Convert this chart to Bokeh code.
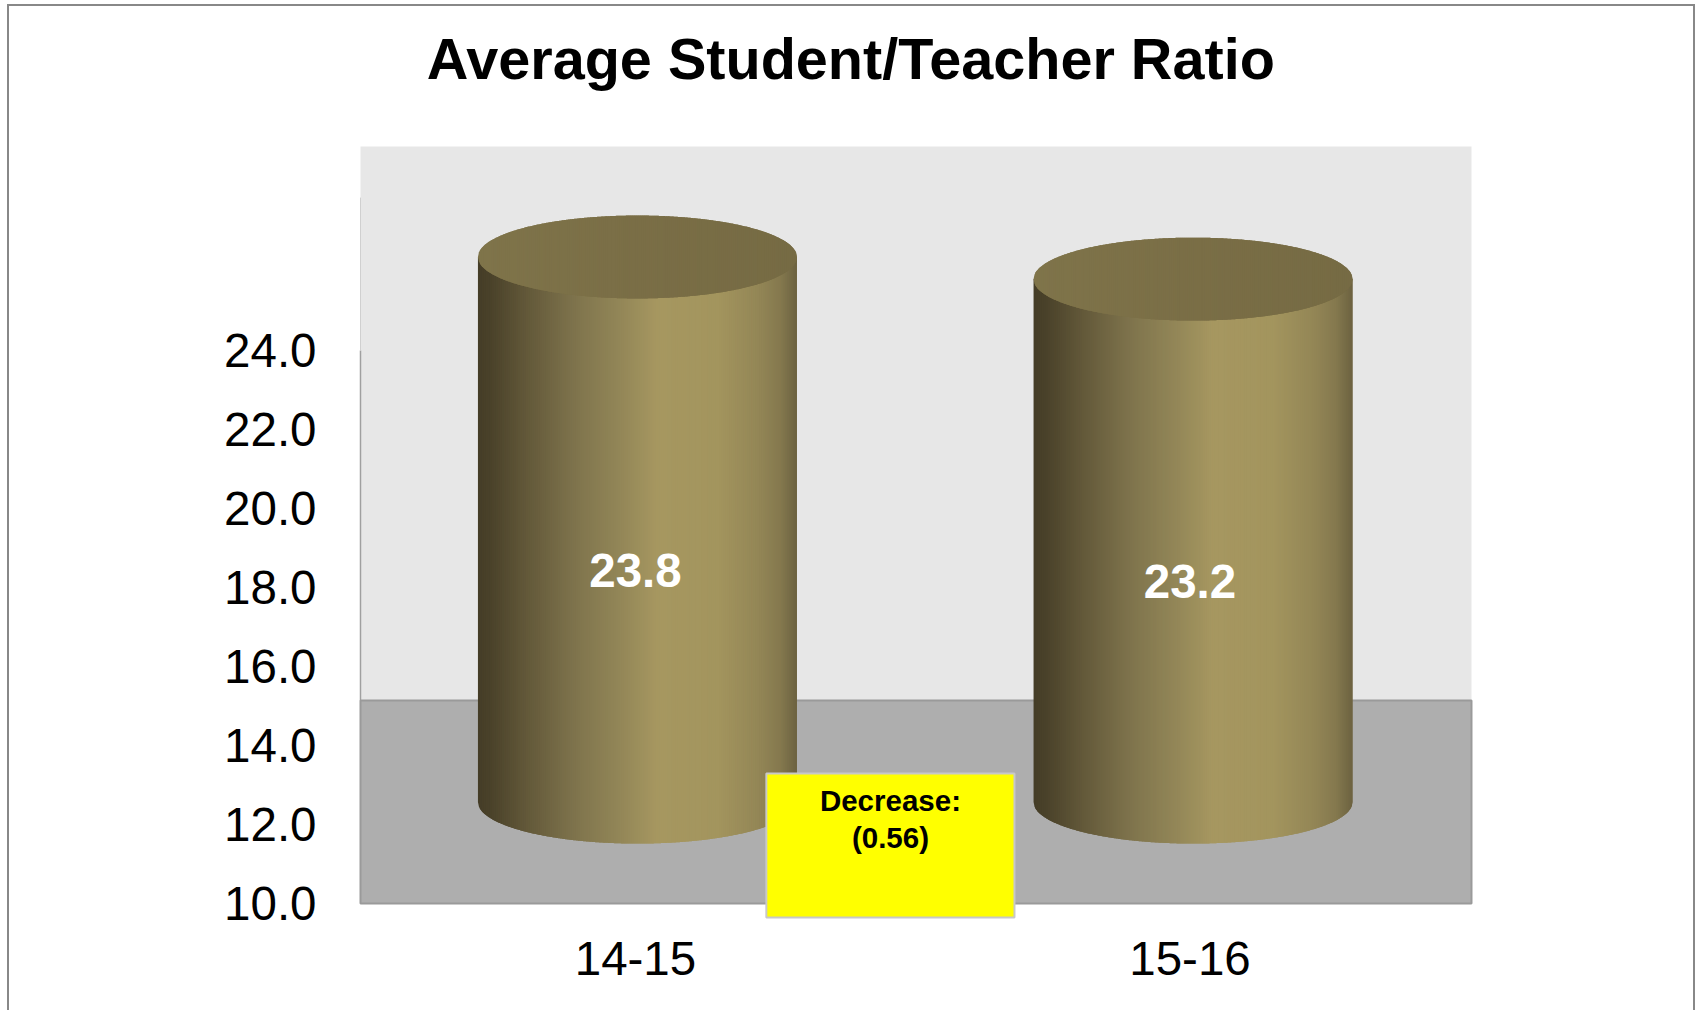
import numpy as np
from bokeh.embed import file_html
from bokeh.models import FixedTicker, InlineStyleSheet, Range1d
from bokeh.plotting import figure
from bokeh.resources import INLINE
from bokeh.core.properties import value

# ---- data ----
categories = ["14-15", "15-16"]
ratios = [23.80, 23.24]
y_ticks = [10, 12, 14, 16, 18, 20, 22, 24]
y_tick_labels = ["10.0", "12.0", "14.0", "16.0", "18.0", "20.0", "22.0", "24.0"]
title_text = "Average Student/Teacher Ratio"
callout_lines = ["Decrease:", "(0.56)"]

# ---- styling / layout ----
FONT = "Liberation Sans"
FRAME_LEFT_PX, FRAME_BOTTOM_PX = 358, 920
Y_START, Y_END = 9.57, 32.86
X_START, X_END = -0.4995, 1.5113
WALL_LEFT, WALL_RIGHT = -0.4959, 1.5077
DEPTH = 2.567            # how far the 3D floor lifts the bars above the front axis
WALL_TOP, FLOOR_TOP, FLOOR_BOTTOM = 29.165, 15.14, 10.0
TITLE_X, TITLE_Y = -0.3765, 31.37
BAR_SHIFT = [0.0035, 0.0055]
BAR_HALF_W = 0.2876
BAR_RY = 1.05
SLICES = 160
SIDE_STOPS = [0, .04, .15, .3, .45, .56, .75, .88, .95, 1]
SIDE_COLS = np.array([(0x45, 0x3D, 0x27), (0x4A, 0x42, 0x2A), (0x62, 0x58, 0x39), (0x7E, 0x73, 0x4C),
                      (0x93, 0x87, 0x58), (0xA6, 0x97, 0x60), (0xA3, 0x95, 0x5E),
                      (0x93, 0x86, 0x56), (0x84, 0x78, 0x4E), (0x6C, 0x62, 0x40)], dtype=float)
TOP_STOPS = [0, .5, 1]
TOP_COLS = np.array([(0x7F, 0x74, 0x4A), (0x7A, 0x6E, 0x46), (0x76, 0x6B, 0x44)], dtype=float)
PICTURE_FRAME_CSS = (":host::after{content:'';position:absolute;left:7px;top:4px;width:1688px;height:1006px;"
                     "box-sizing:border-box;border:2px solid #888888;border-bottom:none;pointer-events:none;}")


def hexes(stops, cols, t):
    return ["#%02x%02x%02x" % tuple(int(round(np.interp(a, stops, cols[:, k]))) for k in range(3)) for a in t]


p = figure(width=1700, height=1010, output_backend="svg", toolbar_location=None,
           x_range=Range1d(X_START, X_END), y_range=Range1d(Y_START, Y_END),
           min_border_left=FRAME_LEFT_PX, min_border_right=227, min_border_top=0,
           min_border_bottom=1010 - FRAME_BOTTOM_PX,
           background_fill_color="white", border_fill_color="white", outline_line_color=None,
           stylesheets=[InlineStyleSheet(css=PICTURE_FRAME_CSS)])
p.extra_y_ranges = {"bars": Range1d(Y_START - DEPTH, Y_END - DEPTH)}
p.grid.visible = False

# axes
ya = p.yaxis[0]
ya.ticker = FixedTicker(ticks=y_ticks)
ya.major_label_overrides = {t: s for t, s in zip(y_ticks, y_tick_labels)}
xa = p.xaxis[0]
xa.ticker = FixedTicker(ticks=list(range(len(categories))))
xa.major_label_overrides = {i: c for i, c in enumerate(categories)}
for ax, standoff in ((ya, 36), (xa, 15)):
    ax.axis_line_color = None
    ax.major_tick_line_color = None
    ax.minor_tick_line_color = None
    ax.major_label_text_font = FONT
    ax.major_label_text_font_size = "47.5px"
    ax.major_label_text_color = "black"
    ax.major_label_standoff = standoff

# title, inside the tall frame
p.text(x=[TITLE_X], y=[TITLE_Y], text=[title_text], text_font=value(FONT), text_font_size="57.6px",
       text_font_style="bold", text_color="black", text_align="left", text_baseline="middle")

# back wall and floor
p.quad(left=WALL_LEFT, right=WALL_RIGHT, bottom=FLOOR_TOP, top=WALL_TOP, fill_color="#e7e7e7", line_color=None)
p.segment(x0=[WALL_LEFT], x1=[WALL_LEFT], y0=[FLOOR_TOP], y1=[24.0], line_color="#a0a0a0", line_width=1.5)
p.segment(x0=[WALL_LEFT], x1=[WALL_LEFT], y0=[24.0], y1=[27.87], line_color="#d0d0d0", line_width=1)
p.quad(left=WALL_LEFT, right=WALL_RIGHT, bottom=FLOOR_BOTTOM, top=FLOOR_TOP, fill_color="#aeaeae",
       line_color="#9a9a9a", line_width=2)

# cylinders: narrow slices give the gradient
t = np.linspace(-1, 1, SLICES + 1)
frac = (t[:-1] + t[1:] + 2) / 4
side_colors = hexes(SIDE_STOPS, SIDE_COLS, frac)
top_colors = hexes(TOP_STOPS, TOP_COLS, frac)
for i, v in enumerate(ratios):
    cx = i + BAR_SHIFT[i]
    xs_side, ys_side, xs_top, ys_top = [], [], [], []
    for k in range(SLICES):
        ta, tb = t[k], t[min(k + 2, SLICES)]          # overlap hides seams
        tm = np.linspace(ta, tb, 5)
        arc = BAR_RY * np.sqrt(np.clip(1 - tm ** 2, 0, 1))
        xx = cx + BAR_HALF_W * tm
        xs_side.append(list(xx) + list(xx[::-1]))
        ys_side.append(list(10 - arc) + [v] * 5)
        xs_top.append(list(xx) + list(xx[::-1]))
        ys_top.append(list(v - arc) + list((v + arc)[::-1]))
    p.patches(xs_side, ys_side, fill_color=side_colors, line_color=None, y_range_name="bars")
    p.patches(xs_top, ys_top, fill_color=top_colors, line_color=None, y_range_name="bars")

# value labels
p.text(x=[i - 0.0 for i in range(len(ratios))], y=[(10 + v) / 2 for v in ratios],
       text=[f"{v:.1f}" for v in ratios], y_range_name="bars", y_offset=41,
       text_font=value(FONT), text_font_size="47.5px", text_font_style="bold", text_color="white",
       text_align="center", text_baseline="middle")

# callout
p.quad(left=0.236, right=0.6835, bottom=9.646, top=13.29, fill_color="#ffff00", line_color="#c8c8c8", line_width=2)
p.text(x=[0.4598, 0.4598], y=[12.60, 11.66], text=callout_lines,
       text_font=value(FONT), text_font_size="29.5px", text_font_style="bold", text_color="black",
       text_align="center", text_baseline="middle")

open("out.html", "w").write(file_html(p, INLINE))
